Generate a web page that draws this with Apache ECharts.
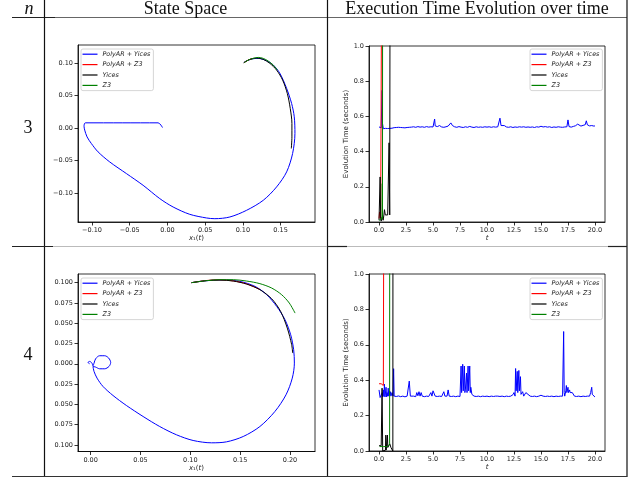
<!DOCTYPE html>
<html>
<head>
<meta charset="utf-8">
<script src="https://cdn.jsdelivr.net/npm/echarts@6/dist/echarts.min.js"></script>
<style>
  html, body { margin: 0; padding: 0; background: #fff; }
  #chart { width: 639px; height: 479px; }
</style>
</head>
<body>
<div id="chart"></div>
<script>
// legend names
const names = ['PolyAR + Yices', 'PolyAR + Z3', 'Yices', 'Z3'];
const colors = ['#0000ff', '#ff0000', '#000000', '#008000'];

// n = 3, state space (x1, x2)
const ssBlue3 = [[-0.0066,0.0010],[-0.0124,0.0082],[-0.0600,0.0082],[-0.1088,0.0082],[-0.1106,0.0030],[-0.1097,-0.0030],[-0.1066,-0.0134],[-0.1009,-0.0236],[-0.0920,-0.0365],[-0.0765,-0.0520],[-0.0544,-0.0699],[-0.0323,-0.0879],[-0.0102,-0.1084],[0.0075,-0.1213],[0.0296,-0.1326],[0.0518,-0.1382],[0.0628,-0.1393],[0.0827,-0.1367],[0.1049,-0.1264],[0.1270,-0.1110],[0.1447,-0.0904],[0.1580,-0.0673],[0.1659,-0.0390],[0.1690,-0.0082],[0.1681,0.0175],[0.1646,0.0380],[0.1580,0.0612],[0.1491,0.0843],[0.1403,0.0971],[0.1314,0.1038],[0.1204,0.1074],[0.1115,0.1064],[0.1027,0.1023],[0.1013,0.1007]];
const ssRed3 = [[0.1013,0.1007],[0.1071,0.1048],[0.1137,0.1074]];
const ssBlack3 = [[0.1013,0.1007],[0.1093,0.1059],[0.1181,0.1079],[0.1270,0.1059],[0.1358,0.0997],[0.1447,0.0894],[0.1527,0.0740],[0.1589,0.0534],[0.1628,0.0303],[0.1650,0.0072],[0.1650,-0.0134],[0.1642,-0.0313]];
const ssGreen3 = [[0.1013,0.1007],[0.1071,0.1048],[0.1137,0.1074],[0.1204,0.1089],[0.1270,0.1074],[0.1336,0.1033],[0.1403,0.0971],[0.1456,0.0894]];

// n = 4, state space
const ssBlue4 = [[-0.0010,0.0000],[-0.0027,0.0016],[-0.0010,0.0029],[0.0013,0.0008],[0.0023,-0.0025],[0.0034,0.0008],[0.0050,0.0062],[0.0090,0.0099],[0.0141,0.0099],[0.0181,0.0070],[0.0201,0.0016],[0.0184,-0.0033],[0.0141,-0.0062],[0.0090,-0.0062],[0.0050,-0.0041],[0.0023,-0.0033],[0.0034,-0.0095],[0.0064,-0.0177],[0.0124,-0.0280],[0.0224,-0.0391],[0.0358,-0.0514],[0.0526,-0.0650],[0.0693,-0.0774],[0.0861,-0.0876],[0.1028,-0.0946],[0.1213,-0.0975],[0.1363,-0.0963],[0.1531,-0.0897],[0.1698,-0.0774],[0.1849,-0.0588],[0.1960,-0.0383],[0.2023,-0.0177],[0.2044,0.0008],[0.2037,0.0173],[0.2007,0.0358],[0.1950,0.0543],[0.1866,0.0708],[0.1766,0.0852],[0.1648,0.0955],[0.1497,0.1016],[0.1347,0.1033],[0.1213,0.1029],[0.1096,0.1016],[0.1012,0.1000]];
const ssRed4 = [[0.1012,0.1000],[0.1163,0.1027],[0.1297,0.1035],[0.1431,0.1022],[0.1565,0.0985],[0.1698,0.0916]];
const ssBlack4 = [[0.1012,0.1000],[0.1163,0.1025],[0.1297,0.1033],[0.1431,0.1020],[0.1565,0.0983],[0.1698,0.0914],[0.1816,0.0802],[0.1906,0.0646],[0.1973,0.0440],[0.2017,0.0235],[0.2027,0.0132]];
const ssGreen4 = [[0.1012,0.1000],[0.1163,0.1025],[0.1297,0.1037],[0.1431,0.1037],[0.1565,0.1020],[0.1698,0.0988],[0.1816,0.0934],[0.1916,0.0852],[0.1993,0.0749],[0.2051,0.0625]];

// n = 3, execution time (t, seconds)
const etBlue3 = [[0.0,0.540],[0.1,0.538],[0.2,0.535],[0.28,0.748],[0.32,0.560],[0.4,0.530],[0.5,0.534],[0.6,0.532],[0.7,0.536],[0.8,0.531],[0.9,0.534],[1.0,0.532],[1.1,0.535],[1.2,0.533],[1.3,0.533],[1.4,0.536],[1.5,0.534],[1.6,0.537],[1.7,0.535],[1.8,0.538],[1.9,0.534],[2.0,0.537],[2.1,0.540],[2.2,0.536],[2.3,0.539],[2.4,0.535],[2.5,0.540],[2.6,0.537],[2.7,0.541],[2.8,0.538],[2.9,0.543],[3.0,0.539],[3.2,0.541],[3.4,0.538],[3.6,0.542],[3.8,0.539],[4.0,0.541],[4.2,0.538],[4.4,0.542],[4.6,0.539],[4.8,0.541],[5.0,0.540],[5.1,0.546],[5.15,0.585],[5.2,0.546],[5.4,0.542],[5.6,0.548],[5.8,0.540],[6.0,0.538],[6.2,0.541],[6.4,0.545],[6.55,0.556],[6.65,0.563],[6.8,0.548],[7.0,0.541],[7.2,0.538],[7.4,0.542],[7.6,0.539],[7.8,0.537],[8.0,0.541],[8.2,0.538],[8.4,0.543],[8.6,0.539],[8.8,0.537],[9.0,0.541],[9.2,0.538],[9.4,0.540],[9.6,0.538],[9.8,0.541],[10.0,0.539],[10.2,0.541],[10.4,0.538],[10.6,0.541],[10.8,0.539],[11.0,0.541],[11.1,0.545],[11.2,0.590],[11.3,0.548],[11.4,0.542],[11.6,0.548],[11.8,0.540],[12.0,0.538],[12.2,0.541],[12.4,0.537],[12.6,0.540],[12.8,0.538],[13.0,0.541],[13.2,0.539],[13.4,0.541],[13.6,0.538],[13.8,0.540],[14.0,0.538],[14.2,0.540],[14.4,0.537],[14.6,0.541],[14.8,0.539],[15.0,0.544],[15.2,0.540],[15.4,0.542],[15.6,0.539],[15.8,0.541],[16.0,0.537],[16.2,0.540],[16.4,0.538],[16.6,0.541],[16.8,0.539],[17.0,0.538],[17.2,0.540],[17.4,0.541],[17.5,0.580],[17.6,0.542],[17.8,0.539],[18.0,0.543],[18.2,0.547],[18.4,0.556],[18.5,0.548],[18.7,0.545],[18.9,0.549],[19.1,0.553],[19.2,0.575],[19.3,0.552],[19.5,0.546],[19.7,0.548],[19.9,0.545],[20.0,0.546]];
const etRed3 = [[0.0,0.020],[0.05,0.057],[0.1,0.050],[0.15,0.020],[0.2,0.010],[0.25,0.015],[0.33,0.015],[0.34,3.0]];
const etBlack3 = [[0.0,0.010],[0.08,0.020],[0.1,0.256],[0.13,0.256],[0.15,0.020],[0.2,0.005],[0.3,0.030],[0.38,0.010],[0.45,0.040],[0.5,0.070],[0.55,0.070],[0.58,0.040],[0.7,0.038],[0.8,0.040],[0.9,0.040],[0.93,0.450],[0.97,0.450],[0.99,0.040],[1.03,0.040],[1.05,3.0]];
const etGreen3 = [[0.0,0.010],[0.1,0.020],[0.2,0.015],[0.28,0.030],[0.3,0.218],[0.32,0.020],[0.33,0.010],[0.34,3.0]];

// n = 4, execution time
const etBlue4 = [[0.0,0.345],[0.05,0.335],[0.1,0.302],[0.15,0.300],[0.2,0.310],[0.25,0.300],[0.3,0.330],[0.35,0.305],[0.4,0.345],[0.45,0.310],[0.5,0.378],[0.55,0.305],[0.6,0.310],[0.65,0.360],[0.7,0.305],[0.75,0.330],[0.8,0.310],[0.85,0.355],[0.9,0.310],[0.95,0.340],[1.0,0.315],[1.05,0.335],[1.1,0.310],[1.2,0.330],[1.3,0.310],[1.35,0.465],[1.4,0.310],[1.5,0.312],[1.6,0.308],[1.8,0.311],[2.0,0.307],[2.2,0.310],[2.4,0.306],[2.6,0.310],[2.7,0.320],[2.8,0.395],[2.9,0.310],[3.0,0.308],[3.2,0.310],[3.4,0.307],[3.5,0.330],[3.6,0.312],[3.7,0.335],[3.8,0.310],[3.9,0.330],[4.0,0.310],[4.2,0.307],[4.4,0.310],[4.6,0.308],[4.8,0.330],[4.9,0.310],[5.0,0.340],[5.1,0.345],[5.2,0.310],[5.4,0.308],[5.5,0.318],[5.6,0.310],[5.8,0.308],[6.0,0.335],[6.1,0.310],[6.3,0.310],[6.4,0.345],[6.5,0.310],[6.7,0.308],[6.9,0.310],[7.1,0.307],[7.3,0.310],[7.5,0.308],[7.6,0.480],[7.65,0.330],[7.75,0.490],[7.8,0.340],[7.9,0.480],[7.95,0.330],[8.0,0.350],[8.1,0.440],[8.15,0.330],[8.25,0.480],[8.3,0.340],[8.4,0.480],[8.45,0.330],[8.5,0.360],[8.6,0.320],[8.8,0.310],[9.0,0.308],[9.2,0.310],[9.4,0.307],[9.6,0.310],[9.8,0.308],[10.0,0.310],[10.2,0.307],[10.4,0.310],[10.6,0.308],[10.8,0.310],[10.9,0.320],[11.0,0.310],[11.2,0.308],[11.4,0.310],[11.6,0.307],[11.8,0.310],[12.0,0.308],[12.2,0.310],[12.4,0.318],[12.5,0.330],[12.6,0.310],[12.65,0.466],[12.7,0.340],[12.8,0.450],[12.85,0.330],[12.95,0.455],[13.0,0.340],[13.1,0.420],[13.15,0.320],[13.3,0.335],[13.4,0.310],[13.6,0.330],[13.8,0.320],[14.0,0.310],[14.2,0.308],[14.4,0.310],[14.6,0.307],[14.8,0.310],[15.0,0.315],[15.2,0.310],[15.4,0.308],[15.6,0.310],[15.8,0.308],[16.0,0.310],[16.2,0.307],[16.4,0.310],[16.6,0.308],[16.8,0.310],[17.0,0.310],[17.05,0.320],[17.1,0.675],[17.15,0.330],[17.2,0.310],[17.3,0.340],[17.35,0.370],[17.4,0.330],[17.5,0.360],[17.55,0.330],[17.65,0.345],[17.7,0.330],[17.8,0.340],[17.9,0.330],[18.0,0.340],[18.1,0.310],[18.3,0.308],[18.5,0.310],[18.7,0.307],[18.9,0.310],[19.1,0.308],[19.3,0.310],[19.5,0.310],[19.6,0.330],[19.7,0.360],[19.75,0.320],[19.8,0.310],[20.0,0.305]];
const etRed4 = [[0.0,0.380],[0.05,0.390],[0.1,0.385],[0.15,0.390],[0.2,0.380],[0.25,0.385],[0.3,0.375],[0.35,0.380],[0.4,0.370],[0.45,0.370],[0.48,0.375],[0.5,3.0]];
const etBlack4 = [[0.0,0.030],[0.1,0.030],[0.2,0.030],[0.25,0.035],[0.28,0.355],[0.31,0.355],[0.34,0.000],[0.4,0.005],[0.5,0.000],[0.6,0.005],[0.63,0.090],[0.66,0.005],[0.72,0.010],[0.78,0.090],[0.81,0.020],[0.9,0.020],[0.95,0.010],[1.0,0.040],[1.05,0.050],[1.1,0.020],[1.2,0.030],[1.28,0.000],[1.3,3.0]];
const etGreen4 = [[0.05,0.025],[0.2,0.025],[0.4,0.025],[0.6,0.025],[0.8,0.025],[0.95,0.025],[0.98,0.040],[1.0,3.0]];

// tick values
const ticksX3 = [-0.10, -0.05, 0.00, 0.05, 0.10, 0.15];
const ticksY3 = [-0.10, -0.05, 0.00, 0.05, 0.10];
const ticksX4 = [0.00, 0.05, 0.10, 0.15, 0.20];
const ticksY4 = [-0.100, -0.075, -0.050, -0.025, 0.000, 0.025, 0.050, 0.075, 0.100];
const ticksT = [0, 2.5, 5, 7.5, 10, 12.5, 15, 17.5, 20];
const ticksE = [0, 0.2, 0.4, 0.6, 0.8, 1.0];

const myChart = echarts.init(document.getElementById('chart'));

function signed(d) {
  return v => (v < -1e-9 ? '\u2212' : '') + Math.abs(v).toFixed(d);
}

function valAxis(gridIndex, min, max, ticks, fmt, extra) {
  return Object.assign({
    type: 'value', gridIndex: gridIndex, min: min, max: max,
    splitLine: { show: false },
    axisLine: { show: true, onZero: false, lineStyle: { color: '#000', width: 0.8 } },
    axisTick: { show: true, inside: false, length: 3.5, customValues: ticks, lineStyle: { color: '#000', width: 0.8 } },
    axisLabel: { customValues: ticks, formatter: fmt, fontSize: 6.5, color: '#222', margin: 5, fontFamily: 'DejaVu Sans' },
    nameTextStyle: { fontSize: 7, color: '#222', fontFamily: 'DejaVu Sans' }
  }, extra || {});
}

const x1Name = {
  name: '{i|x}\u2081({i|t})', nameLocation: 'middle', nameGap: 13,
  nameTextStyle: { fontSize: 7, color: '#222', fontFamily: 'DejaVu Sans', rich: { i: { fontStyle: 'italic', fontSize: 7 } } }
};
const tName = {
  name: 't', nameLocation: 'middle', nameGap: 11.5,
  nameTextStyle: { fontSize: 7, color: '#222', fontStyle: 'italic', fontFamily: 'DejaVu Sans' }
};
const eName = {
  name: 'Evolution Time (seconds)', nameLocation: 'middle', nameGap: 18,
  nameTextStyle: { fontSize: 7, color: '#222', fontFamily: 'DejaVu Sans' }
};

function legendAt(left, top) {
  return {
    left: left, top: top, orient: 'vertical', data: names, icon: 'rect',
    itemWidth: 15, itemHeight: 1.2, itemGap: 0, padding: [0, 3, 0, 1.5],
    selectedMode: false,
    textStyle: { fontSize: 6.4, fontStyle: 'italic', lineHeight: 10.4, color: '#222', fontFamily: 'DejaVu Sans' },
    backgroundColor: 'rgba(255,255,255,0.8)', borderColor: '#ccc', borderWidth: 0.8, borderRadius: 2
  };
}

function lines(idx, sets, smooth) {
  return sets.map((d, k) => ({
    type: 'line', name: names[k], xAxisIndex: idx, yAxisIndex: idx,
    data: d, symbol: 'none', showSymbol: false, smooth: smooth, clip: true,
    lineStyle: { color: colors[k], width: 1 }, itemStyle: { color: colors[k] }
  }));
}

function hline(x1, x2, y, color, w) {
  return { type: 'line', shape: { x1: x1, y1: y, x2: x2, y2: y }, style: { stroke: color, lineWidth: w } };
}
function vline(x, y1, y2, color, w) {
  return { type: 'line', shape: { x1: x, y1: y1, x2: x, y2: y2 }, style: { stroke: color, lineWidth: w } };
}
function label(text, x, y, italic) {
  return {
    type: 'text',
    style: { text: text, x: x, y: y, align: 'center', verticalAlign: 'middle', fill: '#111',
      font: (italic ? 'italic ' : '') + '18px "Liberation Serif"' }
  };
}

const option = {
  animation: false,
  backgroundColor: '#fff',
  graphic: [
    hline(12, 627, 17.5, '#666', 1.2),
    hline(12, 55, 17.5, '#222', 1.2),
    vline(44.5, 0, 477, '#111', 1.2),
    vline(327.5, 0, 477, '#111', 1.2),
    vline(627, 0, 477, '#111', 1.2),
    hline(44, 627, 246.5, '#bbb', 1.2),
    hline(12, 53, 246.5, '#222', 1.2),
    hline(327, 347, 246.5, '#222', 1.2),
    hline(608, 627, 246.5, '#222', 1.2),
    hline(12, 627, 476.5, '#333', 1.2),
    label('n', 29, 9, true),
    label('State Space', 185.5, 9),
    label('Execution Time Evolution over time', 477, 9),
    label('3', 28, 128),
    label('4', 28, 355)
  ],
  grid: [
    { left: 78, top: 45, width: 237, height: 177 },
    { left: 369, top: 46, width: 236, height: 176 },
    { left: 78, top: 274, width: 237, height: 177.5 },
    { left: 369, top: 274, width: 236, height: 177 }
  ].map(g => Object.assign(g, { show: true, borderColor: '#000', borderWidth: 0.8, backgroundColor: 'transparent', outerBoundsMode: 'none' })),
  xAxis: [
    valAxis(0, -0.1186, 0.1956, ticksX3, signed(2), x1Name),
    valAxis(1, -0.93, 20.93, ticksT, v => v.toFixed(1), tName),
    valAxis(2, -0.0127, 0.2251, ticksX4, v => v.toFixed(2), x1Name),
    valAxis(3, -0.93, 20.93, ticksT, v => v.toFixed(1), tName)
  ],
  yAxis: [
    valAxis(0, -0.1444, 0.128, ticksY3, signed(2)),
    valAxis(1, 0, 1, ticksE, v => v.toFixed(1), eName),
    valAxis(2, -0.1082, 0.1107, ticksY4, v => Math.abs(v).toFixed(3)),
    valAxis(3, 0, 1, ticksE, v => v.toFixed(1), eName)
  ],
  legend: [legendAt(81, 49), legendAt(530, 49), legendAt(81, 278), legendAt(530, 278)],
  series: [].concat(
    lines(0, [ssBlue3, ssRed3, ssBlack3, ssGreen3], 0.3),
    lines(1, [etBlue3, etRed3, etBlack3, etGreen3], false),
    lines(2, [ssBlue4, ssRed4, ssBlack4, ssGreen4], 0.3),
    lines(3, [etBlue4, etRed4, etBlack4, etGreen4], false)
  )
};

myChart.setOption(option);
</script>
</body>
</html>
